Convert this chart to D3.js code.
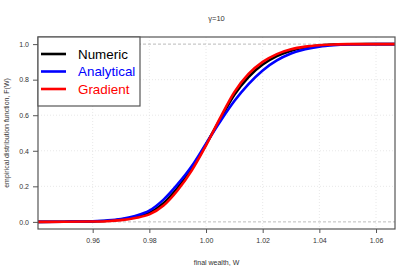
<!DOCTYPE html>
<html>
<head>
<meta charset="utf-8">
<script src="https://cdn.jsdelivr.net/npm/d3@7"></script>
<style>
  body { margin: 0; background: #fff; }
  svg { display: block; font-family: "Liberation Sans", Arial, sans-serif; }
</style>
</head>
<body>
<svg width="415" height="277"></svg>
<script>
// final wealth grid
const wealth = [0.94, 0.95, 0.96, 0.965, 0.97, 0.975, 0.98, 0.985, 0.99, 0.995, 1.0, 1.005,
  1.01, 1.015, 1.02, 1.025, 1.03, 1.035, 1.04, 1.045, 1.05, 1.06, 1.07]

// empirical CDF values
const numeric = [0, 0.001, 0.003, 0.006, 0.013, 0.027, 0.05, 0.105, 0.192, 0.3, 0.435, 0.578,
  0.715, 0.815, 0.885, 0.932, 0.963, 0.981, 0.992, 0.997, 0.999, 1, 1]
const analytical = [0, 0.001, 0.004, 0.008, 0.016, 0.033, 0.063, 0.125, 0.212, 0.314, 0.44, 0.565,
  0.68, 0.775, 0.852, 0.908, 0.947, 0.971, 0.986, 0.994, 0.998, 1, 1]
const gradient = [0, 0.0005, 0.002, 0.004, 0.01, 0.022, 0.042, 0.092, 0.178, 0.29, 0.43, 0.585,
  0.73, 0.832, 0.9, 0.944, 0.971, 0.986, 0.994, 0.998, 1, 1, 1]

const seriesNames = ['Numeric', 'Analytical', 'Gradient']
const seriesColors = ['#000000', '#0000ff', '#ff0000']
const xTicks = [0.96, 0.98, 1.00, 1.02, 1.04, 1.06]
const yTicks = [0, 0.2, 0.4, 0.6, 0.8, 1.0]

const svg = d3.select('svg')
const plot = { left: 38, right: 395, top: 37, bottom: 229 }

/* SCALES */
const xScale = d3.scaleLinear().domain([0.9407, 1.0667]).range([plot.left, plot.right])
const yScale = d3.scaleLinear().domain([-0.04, 1.04]).range([plot.bottom, plot.top])

svg.append('defs').append('clipPath').attr('id', 'clip')
  .append('rect')
  .attr('x', plot.left).attr('y', plot.top)
  .attr('width', plot.right - plot.left).attr('height', plot.bottom - plot.top)

/* GRID */
const grid = svg.append('g')
grid.selectAll('.vgrid').data(xTicks).enter().append('line')
  .attr('x1', d => xScale(d)).attr('x2', d => xScale(d))
  .attr('y1', plot.top).attr('y2', plot.bottom)
  .attr('stroke', '#e2e2e2').attr('stroke-width', 0.8).attr('stroke-dasharray', '1,2')
grid.selectAll('.hgrid').data(yTicks.filter(d => d > 0 && d < 1)).enter().append('line')
  .attr('x1', plot.left).attr('x2', plot.right)
  .attr('y1', d => yScale(d)).attr('y2', d => yScale(d))
  .attr('stroke', '#e2e2e2').attr('stroke-width', 0.8).attr('stroke-dasharray', '1,2')
grid.selectAll('.bound').data([0, 1]).enter().append('line')
  .attr('x1', plot.left).attr('x2', plot.right)
  .attr('y1', d => yScale(d)).attr('y2', d => yScale(d))
  .attr('stroke', '#aaaaaa').attr('stroke-width', 0.8).attr('stroke-dasharray', '3,2')

/* CURVES */
const line = d3.line()
  .x((d, i) => xScale(wealth[i]))
  .y(d => yScale(d))
  .curve(d3.curveMonotoneX)

svg.append('g').attr('clip-path', 'url(#clip)')
  .selectAll('path')
  .data([numeric, analytical, gradient])
  .enter().append('path')
  .attr('d', line)
  .attr('fill', 'none')
  .attr('stroke', (d, i) => seriesColors[i])
  .attr('stroke-width', 2.6)

/* AXES */
const xAxis = d3.axisBottom(xScale).tickValues(xTicks).tickFormat(d3.format('.2f'))
  .tickSizeInner(4).tickSizeOuter(0).tickPadding(5)
const yAxis = d3.axisLeft(yScale).tickValues(yTicks).tickFormat(d3.format('.1f'))
  .tickSizeInner(5).tickSizeOuter(0).tickPadding(4)

const gx = svg.append('g').attr('transform', `translate(0, ${plot.bottom})`).call(xAxis)
const gy = svg.append('g').attr('transform', `translate(${plot.left}, 0)`).call(yAxis)
;[gx, gy].forEach(g => {
  g.select('.domain').remove()
  g.selectAll('.tick line').attr('stroke', '#555')
  g.selectAll('.tick text').attr('fill', '#333').style('font-size', '7px')
    .style('font-family', '"Liberation Sans", Arial, sans-serif')
})

/* FRAME */
svg.append('rect')
  .attr('x', plot.left).attr('y', plot.top)
  .attr('width', plot.right - plot.left).attr('height', plot.bottom - plot.top)
  .attr('fill', 'none').attr('stroke', '#555').attr('stroke-width', 1.2)

/* TITLES */
svg.append('text')
  .attr('x', (plot.left + plot.right) / 2).attr('y', 21)
  .attr('text-anchor', 'middle').attr('fill', '#333').style('font-size', '7.5px')
  .text('γ=10')
svg.append('text')
  .attr('x', (plot.left + plot.right) / 2).attr('y', 265)
  .attr('text-anchor', 'middle').attr('fill', '#333').style('font-size', '7px')
  .text('final wealth, W')
svg.append('text')
  .attr('transform', `translate(9, ${(plot.top + plot.bottom) / 2}) rotate(-90)`)
  .attr('text-anchor', 'middle').attr('fill', '#333').style('font-size', '7px')
  .text('empirical distribution function, F(W)')

/* LEGEND */
const legend = svg.append('g')
legend.append('rect')
  .attr('x', plot.left).attr('y', plot.top)
  .attr('width', 102).attr('height', 69)
  .attr('fill', '#fff').attr('stroke', '#555').attr('stroke-width', 1.2)
const rows = legend.selectAll('.row').data(seriesNames).enter().append('g')
  .attr('transform', (d, i) => `translate(0, ${54 + i * 17.5})`)
rows.append('line')
  .attr('x1', 41).attr('x2', 66).attr('y1', 0).attr('y2', 0)
  .attr('stroke', (d, i) => seriesColors[i]).attr('stroke-width', 2.6)
rows.append('text')
  .attr('x', 78).attr('y', 4.5)
  .attr('fill', (d, i) => seriesColors[i])
  .style('font-size', '13.4px')
  .text(d => d)
</script>
</body>
</html>
